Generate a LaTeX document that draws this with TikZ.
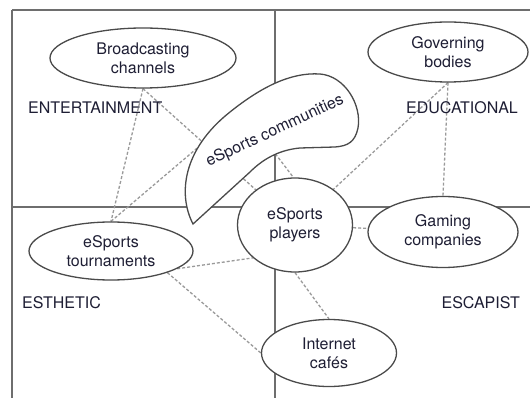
\documentclass[tikz,border=0pt]{standalone}
\usepackage{fontspec}
\setmainfont{TeX Gyre Heros}
\usepackage{xcolor}
\usetikzlibrary{shapes.geometric,backgrounds}
\definecolor{rulegray}{HTML}{6E6E6E}
\definecolor{edgegray}{HTML}{4A4A4A}
\definecolor{linkgray}{HTML}{9A9A9A}
\definecolor{inkblue}{HTML}{1E1E34}

\begin{document}
\begin{tikzpicture}[
    x=1pt, y=-1pt,
    font=\fontsize{16}{19}\selectfont,
    text=inkblue,
    actor/.style={ellipse, draw=edgegray, line width=1.3pt, fill=white, align=center, inner sep=0},
    link/.style={draw=linkgray, line width=1.3pt, dash pattern=on 3pt off 2pt},
    divider/.style={draw=rulegray, line width=1.1pt},
    realm/.style={inner sep=0}]

\useasboundingbox (0,0) rectangle (530,398);

% stakeholders
\node[actor, minimum width=186pt, minimum height=60pt] (broadcast) at (143,58)  {Broadcasting\\channels};
\node[actor, minimum width=160pt, minimum height=60pt] (govern)    at (448,52)  {Governing\\bodies};
\node[actor, minimum width=164pt, minimum height=58pt] (tourney)   at (111,251) {eSports\\tournaments};
\node[actor, minimum width=115pt, minimum height=94pt] (players)   at (295,225) {eSports\\players};
\node[actor, minimum width=150pt, minimum height=71pt] (gaming)    at (443,232) {Gaming\\companies};
\node[actor, minimum width=135pt, minimum height=67pt] (cafes)     at (329,353) {Internet\\cafés};

% communities blob
\path[draw=edgegray, line width=1.3pt, fill=white] (193,224)
    .. controls (178,195) and (182,150) .. (230,112)
    .. controls (260,88) and (290,72) .. (320,74)
    .. controls (345,76) and (362,105) .. (358,128)
    .. controls (355,142) and (348,146) .. (335,147)
    -- (300,148)
    .. controls (278,150) and (262,160) .. (250,172) -- cycle;
\node[rotate=25] (commlabel) at (275,131) {eSports communities};
\coordinate (commhub) at (242,110);

% realms
\node[realm, anchor=west] (entertain) at (28,108)  {ENTERTAINMENT};
\node[realm, anchor=east] (educate)   at (518,108) {EDUCATIONAL};
\node[realm, anchor=west] (esthetic)  at (22,303)  {ESTHETIC};
\node[realm, anchor=east] (escape)    at (520,303) {ESCAPIST};

\begin{scope}[on background layer]
\fill[white] (0,0) rectangle (530,398);
\path[draw=rulegray, line width=2.4pt] (12,10) -- (530,10);
\path[draw=rulegray, line width=1.6pt] (12,10) -- (12,398);
\path[divider] (275,10) -- (275,398);
\path[divider] (12,207) -- (530,207);

\path[link] (broadcast.south) -- (tourney.north);
\path[link] (broadcast.south) -- (players.center);
\path[link] (tourney.north) -- (commhub);
\path[link] (commhub) -- (players.92);
\path[link] (govern.south) -- (players.center);
\path[link] (govern.south) -- (gaming.north);
\path[link] (players) -- (gaming);
\path[link] (tourney.-15) -- (players.218);
\path[link] (tourney.-21) -- (cafes.west);
\path[link] (players.south) -- (cafes.north);
\end{scope}

\end{tikzpicture}
\end{document}
